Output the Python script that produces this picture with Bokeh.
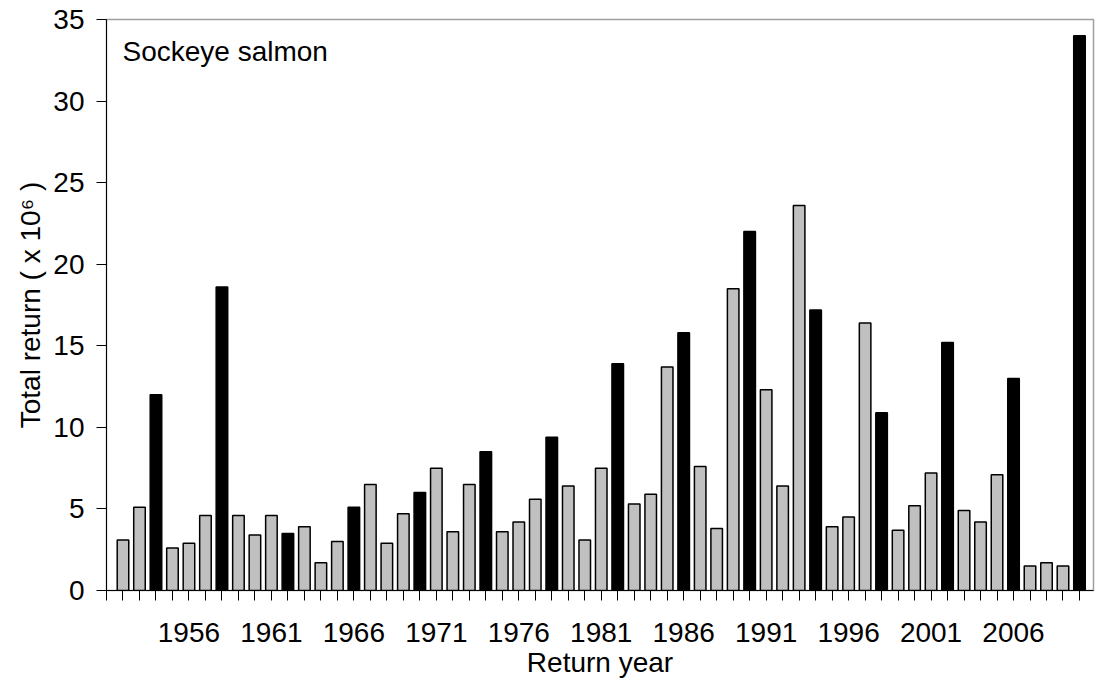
from bokeh.plotting import figure
from bokeh.models import FixedTicker, Label, Range1d, ColumnDataSource
from bokeh.embed import file_html
from bokeh.resources import INLINE

# ---- data ----
years = list(range(1952, 2011))
returns = [3.1, 5.1, 12.0, 2.6, 2.9, 4.6, 18.6, 4.6, 3.4, 4.6,
           3.5, 3.9, 1.7, 3.0, 5.1, 6.5, 2.9, 4.7, 6.0, 7.5,
           3.6, 6.5, 8.5, 3.6, 4.2, 5.6, 9.4, 6.4, 3.1, 7.5,
           13.9, 5.3, 5.9, 13.7, 15.8, 7.6, 3.8, 18.5, 22.0, 12.3,
           6.4, 23.6, 17.2, 3.9, 4.5, 16.4, 10.9, 3.7, 5.2, 7.2,
           15.2, 4.9, 4.2, 7.1, 13.0, 1.5, 1.7, 1.5, 34.0]
dominant_years = list(range(1954, 2011, 4))
tick_years = list(range(1951, 2011))
label_years = list(range(1956, 2007, 5))
y_ticks = [0, 5, 10, 15, 20, 25, 30, 35]

colors = ["black" if y in dominant_years else "#C0C0C0" for y in years]
src = ColumnDataSource(dict(x=years, top=returns, color=colors))

FONT = "Liberation Sans"

p = figure(width=1097, height=692, output_backend="svg", toolbar_location=None,
           x_range=Range1d(1951, 2010.85), y_range=Range1d(0, 35),
           min_border_left=106, min_border_right=4, min_border_top=19,
           min_border_bottom=102)
p.xgrid.visible = False
p.ygrid.visible = False
p.background_fill_color = "white"
p.border_fill_color = "white"
p.outline_line_color = "#A0A0A0"
p.outline_line_width = 1.5

p.vbar(x="x", top="top", width=0.7, source=src, fill_color="color",
       line_color="black", line_width=1.5)

for ax in (p.xaxis[0], p.yaxis[0]):
    ax.axis_line_color = "black"
    ax.axis_line_width = 1
    ax.major_tick_line_color = "black"
    ax.major_tick_line_width = 1
    ax.major_tick_out = 10
    ax.major_tick_in = 0
    ax.minor_tick_line_color = None
    ax.major_label_text_font = FONT
    ax.major_label_text_font_size = "28px"
    ax.major_label_text_color = "black"
    ax.axis_label_text_font = FONT
    ax.axis_label_text_font_size = "28px"
    ax.axis_label_text_font_style = "normal"
    ax.axis_label_text_color = "black"

p.xaxis.ticker = FixedTicker(ticks=tick_years)
p.xaxis.major_label_overrides = {y: (str(y) if y in label_years else "") for y in tick_years}
p.xaxis.major_label_standoff = 22
p.xaxis.axis_label = "Return year"
p.xaxis.axis_label_standoff = 2

p.yaxis.ticker = FixedTicker(ticks=y_ticks)
p.yaxis.major_label_standoff = 12
p.yaxis.axis_label = "Total return ( x 10\u2076 )"
p.yaxis.axis_label_standoff = 4

p.add_layout(Label(x=16, y=539, x_units="screen", y_units="screen",
                   text="Sockeye salmon", text_font=FONT, text_font_size="28px",
                   text_color="black", text_align="left",
                   text_baseline="alphabetic"))

open("out.html", "w").write(file_html(p, INLINE))
